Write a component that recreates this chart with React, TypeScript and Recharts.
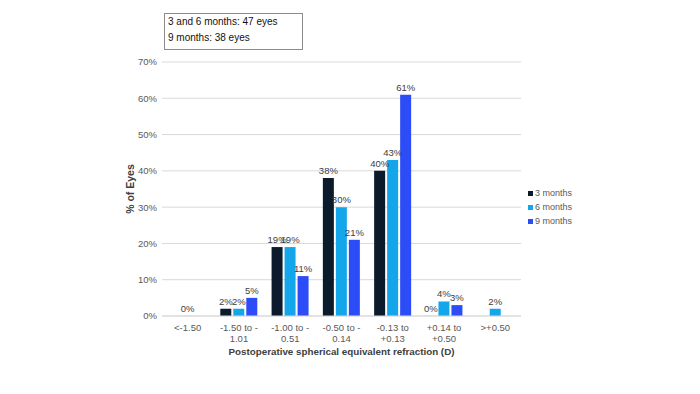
import React from 'react';
import { BarChart, Bar, XAxis, YAxis, CartesianGrid, LabelList } from 'recharts';

const CATEGORIES = ['<-1.50', '-1.50 to -1.01', '-1.00 to -0.51', '-0.50 to -0.14', '-0.13 to +0.13', '+0.14 to +0.50', '>+0.50'];
const TICK_LINES = [['<-1.50'], ['-1.50 to -', '1.01'], ['-1.00 to -', '0.51'], ['-0.50 to -', '0.14'], ['-0.13 to', '+0.13'], ['+0.14 to', '+0.50'], ['>+0.50']];
const THREE_MONTHS = [null, 2, 19, 38, 40, 0, null];
const SIX_MONTHS = [0, 2, 19, 30, 43, 4, 2];
const NINE_MONTHS = [null, 5, 11, 21, 61, 3, null];
const Y_TICKS = [0, 10, 20, 30, 40, 50, 60, 70];

const SERIES = [
  { key: 'm3', name: '3 months', color: '#0b1b2b' },
  { key: 'm6', name: '6 months', color: '#14a6ea' },
  { key: 'm9', name: '9 months', color: '#2b4cf7' },
];

const data = CATEGORIES.map((c, i) => ({
  name: c,
  m3: THREE_MONTHS[i],
  m6: SIX_MONTHS[i],
  m9: NINE_MONTHS[i],
}));

const FONT = '"Liberation Sans", Arial, sans-serif';

function XTick(props: any) {
  const { x, y, index } = props;
  const lines = TICK_LINES[index] || [];
  return (
    <text x={x} y={y} textAnchor="middle" fontSize={9.5} fill="#595959" fontFamily={FONT}>
      {lines.map((l, i) => (
        <tspan key={i} x={x} dy={i === 0 ? 13 : 11}>
          {l}
        </tspan>
      ))}
    </text>
  );
}

const pct = (v: any) => (v === null || v === undefined ? '' : `${v}%`);

// zero bars get a hairline height so their "0%" label is still drawn
const zeroSize = (v: any) => (v === 0 ? 0.05 : 0);

export default function App() {
  return (
    <div style={{ position: 'fixed', left: 0, top: 0, width: 700, height: 394, background: '#fff', fontFamily: FONT }}>
      <BarChart
        width={700}
        height={394}
        data={data}
        margin={{ top: 62, right: 179, bottom: 0, left: 100 }}
        barSize={11}
        barGap={2}
      >
        <CartesianGrid vertical={false} stroke="#d9d9d9" />
        <XAxis
          dataKey="name"
          height={78}
          tickLine={false}
          tickSize={0}
          stroke="#d9d9d9"
          interval={0}
          tick={<XTick />}
          label={{
            value: 'Postoperative spherical equivalent refraction (D)',
            position: 'insideBottom',
            offset: 39,
            fontSize: 9.8,
            fontWeight: 'bold',
            fill: '#404040',
            fontFamily: FONT,
          }}
        />
        <YAxis
          width={62}
          domain={[0, 70]}
          ticks={Y_TICKS}
          axisLine={false}
          tickLine={false}
          tickSize={3}
          tickMargin={2}
          tickFormatter={(v) => `${v}%`}
          tick={{ fontSize: 9.5, fill: '#595959', fontFamily: FONT }}
          label={{
            value: '% of Eyes',
            angle: -90,
            position: 'center',
            dx: -1,
            fontSize: 10.5,
            fontWeight: 'bold',
            fill: '#404040',
            fontFamily: FONT,
          }}
        />
        {SERIES.map((s) => (
          <Bar key={s.key} dataKey={s.key} name={s.name} fill={s.color} minPointSize={zeroSize} isAnimationActive={false}>
            <LabelList
              dataKey={s.key}
              position="top"
              offset={4}
              formatter={pct}
              style={{ fontSize: 9.5, fill: '#404040', fontFamily: FONT }}
            />
          </Bar>
        ))}
      </BarChart>

      <div
        style={{
          position: 'absolute',
          left: 164,
          top: 13,
          width: 139,
          height: 37,
          border: '1px solid #8c8c8c',
          fontSize: 10,
          color: '#111',
          lineHeight: '16px',
          padding: '0 0 0 3px',
          boxSizing: 'border-box',
        }}
      >
        <div>3 and 6 months: 47 eyes</div>
        <div>9 months: 38 eyes</div>
      </div>

      <div style={{ position: 'absolute', left: 528, top: 186 }}>
        {SERIES.map((s) => (
          <div key={s.key} style={{ display: 'flex', alignItems: 'center', height: 14, fontSize: 9, color: '#595959' }}>
            <span style={{ width: 5, height: 5, background: s.color, marginRight: 2, display: 'inline-block' }} />
            {s.name}
          </div>
        ))}
      </div>
    </div>
  );
}
